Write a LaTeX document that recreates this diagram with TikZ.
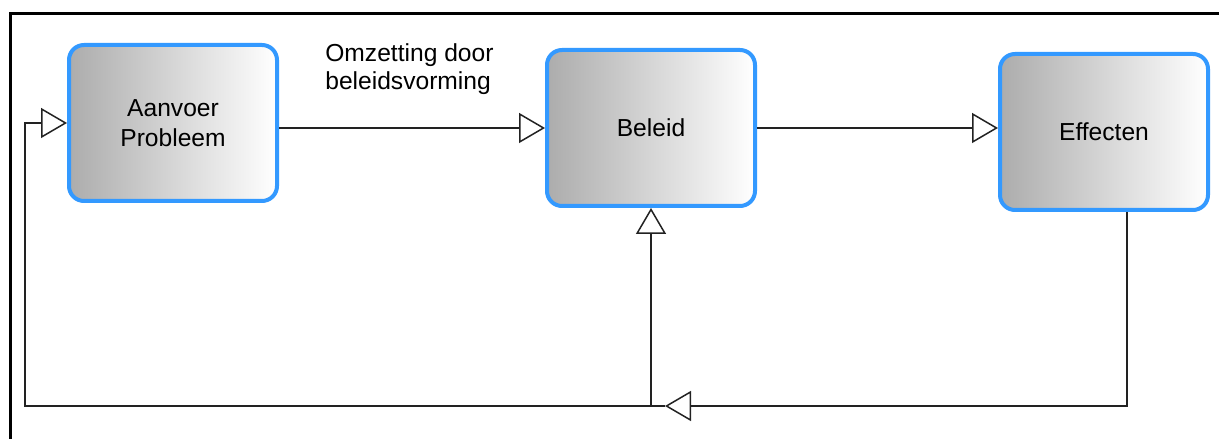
\documentclass[tikz,border=0pt]{standalone}
\usepackage{fontspec}
\setmainfont{Liberation Sans}
\usetikzlibrary{arrows.meta,calc,positioning}

\definecolor{kaderblauw}{HTML}{3399FF}
\definecolor{lijngrijs}{HTML}{222222}

\tikzset{
	blok/.style={draw=kaderblauw, line width=0.08cm, rounded corners=0.3cm,
		left color=gray!65, right color=white,
		minimum width=4.16cm, minimum height=3.12cm, align=center,
		font=\fontsize{14}{17}\selectfont},
	lijn/.style={draw=lijngrijs, line width=0.03cm},
	pijl/.style={-{Triangle[open, length=0.52cm, width=0.6cm, fill=white]}},
	tekst/.style={align=left, inner sep=0pt, font=\fontsize{14}{16}\selectfont}
}

\begin{document}
\begin{tikzpicture}
		%%%%% START %%%%%
		\useasboundingbox (0, 0) rectangle (24.38, 8.78);
		
		% kader
		\draw[line width=0.06cm] (0.21, 0) -- (0.21, 8.51) -- (24.38, 8.51);
		
		% blokken
		\node[blok] (aanvoer) at (3.46, 6.32) {Aanvoer\\Probleem};
		\node[blok] (beleid) at (13.02, 6.22) {Beleid};
		\node[blok] (effecten) at (22.08, 6.14) {Effecten};
		
		\node[tekst, anchor=west] (omzetting) at (6.5, 7.4) {Omzetting door\\beleidsvorming};
		
		% hoekpunten terugkoppeling
		\coordinate (hoekR) at (22.54, 0.66);
		\coordinate (hoekL) at (0.5, 0.66);
		\coordinate (splits) at (beleid.south |- hoekR);
		\coordinate (punt) at ($(splits)+(0.28, 0)$);
		
		\draw[lijn, pijl] (aanvoer.east |- beleid.west) -- (beleid.west);
		\draw[lijn, pijl] (beleid.east) -- (beleid.east -| effecten.west);
		
		\draw[lijn, pijl] (effecten.south -| hoekR) -- (hoekR) -- (punt);
		\draw[lijn, pijl] (punt) -- (hoekL) -- (hoekL |- aanvoer.west) -- (aanvoer.west);
		\draw[lijn, pijl] (splits) -- (beleid.south);
		
		%%%%% END %%%%%
	\end{tikzpicture}
\end{document}
